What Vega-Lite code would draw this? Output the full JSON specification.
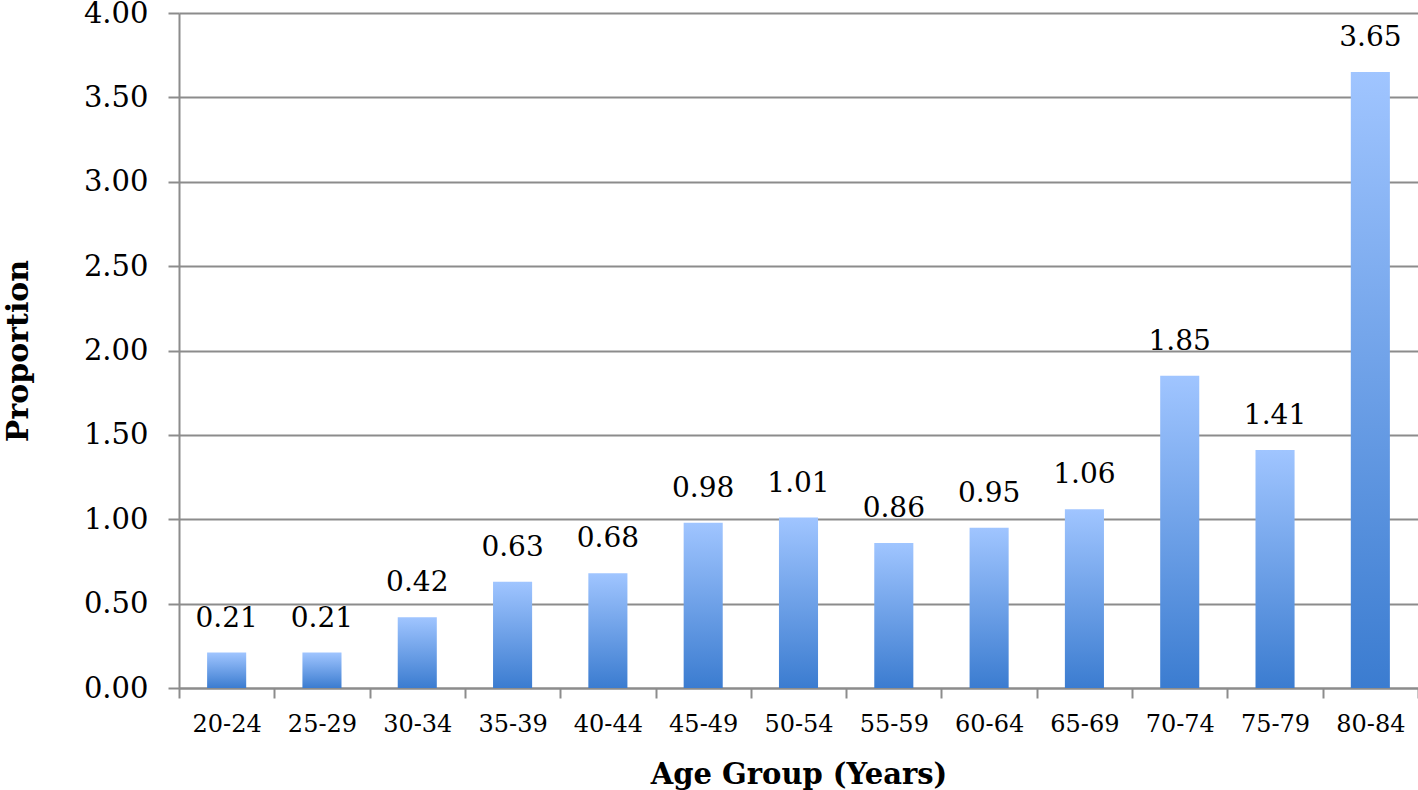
{
  "$schema": "https://vega.github.io/schema/vega-lite/v6.json",
  "width": 1239,
  "height": 675,
  "autosize": {"type": "none"},
  "padding": {"left": 179, "top": 13, "right": 0, "bottom": 102},
  "background": "white",
  "config": {
    "view": {"stroke": null},
    "font": "DejaVu Serif"
  },
  "data": {
    "values": [
      {"age": "20-24", "value": 0.21},
      {"age": "25-29", "value": 0.21},
      {"age": "30-34", "value": 0.42},
      {"age": "35-39", "value": 0.63},
      {"age": "40-44", "value": 0.68},
      {"age": "45-49", "value": 0.98},
      {"age": "50-54", "value": 1.01},
      {"age": "55-59", "value": 0.86},
      {"age": "60-64", "value": 0.95},
      {"age": "65-69", "value": 1.06},
      {"age": "70-74", "value": 1.85},
      {"age": "75-79", "value": 1.41},
      {"age": "80-84", "value": 3.65}
    ]
  },
  "encoding": {
    "x": {
      "field": "age",
      "type": "nominal",
      "sort": null,
      "scale": {"paddingInner": 0, "paddingOuter": 0},
      "axis": {
        "title": "Age Group (Years)",
        "labelAngle": 0,
        "labelFont": "DejaVu Serif",
        "labelFontSize": 24,
        "labelColor": "black",
        "labelPadding": 14,
        "tickBand": "extent",
        "tickSize": 10,
        "tickWidth": 2,
        "tickColor": "#8c8c8c",
        "domainColor": "#8c8c8c",
        "domainWidth": 2,
        "titleFont": "DejaVu Serif",
        "titleFontSize": 29,
        "titleFontWeight": "bold",
        "titleColor": "black",
        "titlePadding": 24
      }
    },
    "y": {
      "field": "value",
      "type": "quantitative",
      "scale": {"domain": [0, 4]},
      "axis": {
        "title": "Proportion",
        "values": [0, 0.5, 1, 1.5, 2, 2.5, 3, 3.5, 4],
        "format": ".2f",
        "labelFont": "DejaVu Serif",
        "labelFontSize": 29,
        "labelColor": "black",
        "labelPadding": 20,
        "tickSize": 11,
        "tickWidth": 2,
        "tickColor": "#8c8c8c",
        "domainColor": "#8c8c8c",
        "domainWidth": 2,
        "grid": true,
        "gridColor": "#8c8c8c",
        "gridWidth": 2,
        "titleFont": "DejaVu Serif",
        "titleFontSize": 30,
        "titleFontWeight": "bold",
        "titleColor": "black",
        "titlePadding": 50
      }
    }
  },
  "layer": [
    {
      "mark": {
        "type": "bar",
        "width": {"band": 0.41},
        "color": {
          "gradient": "linear",
          "x1": 0, "y1": 0, "x2": 0, "y2": 1,
          "stops": [
            {"offset": 0, "color": "#a0c5ff"},
            {"offset": 1, "color": "#3b7cd0"}
          ]
        }
      }
    },
    {
      "mark": {
        "type": "text",
        "baseline": "bottom",
        "dy": -20,
        "fontSize": 28,
        "font": "DejaVu Serif",
        "color": "black"
      },
      "encoding": {
        "text": {"field": "value", "type": "quantitative", "format": ".2f"}
      }
    }
  ]
}
